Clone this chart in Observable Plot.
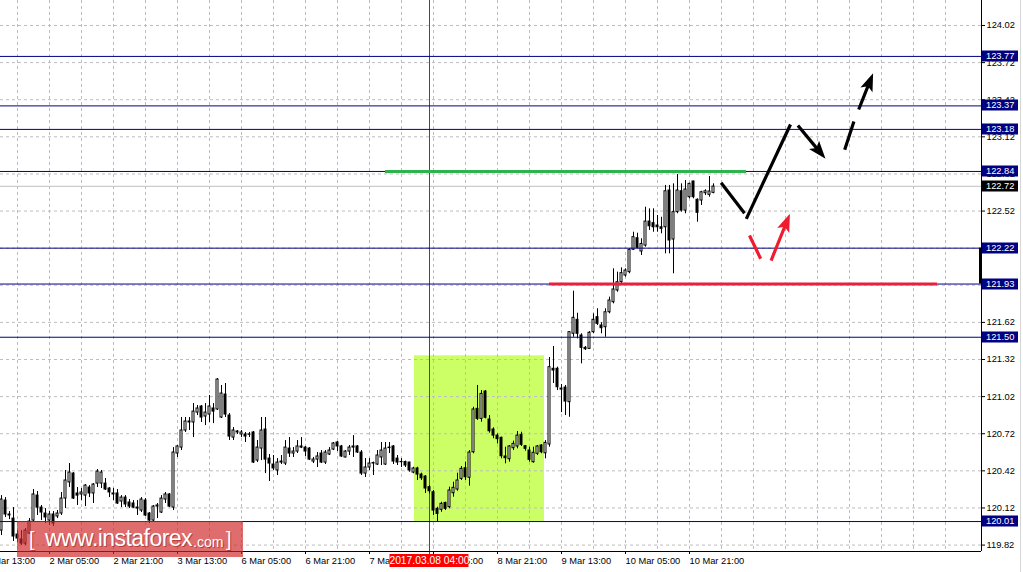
<!DOCTYPE html>
<html><head><meta charset="utf-8">
<script src="https://cdn.jsdelivr.net/npm/d3@7"></script>
<script src="https://cdn.jsdelivr.net/npm/@observablehq/plot@0.6"></script>
<style>
html,body{margin:0;padding:0;background:#fff;}
#wrap{position:relative;width:1023px;height:572px;overflow:hidden;}
#logo{position:absolute;left:17px;top:521px;width:226px;height:36px;background:rgba(210,40,40,0.68);color:#fff;font-family:"Liberation Sans",Arial,sans-serif;white-space:nowrap;}
#logo span{position:absolute;line-height:1;text-shadow:1px 1px 0 rgba(140,20,20,0.55);}
#logo .br{font-size:19.5px;top:8.5px;}
#logo .big{font-size:23px;left:28px;top:6.2px;letter-spacing:-0.55px;}
#logo .small{font-size:14px;left:176px;top:13.9px;}
</style></head>
<body><div id="wrap"></div>
<script>
// ---- data (USD/JPY H1) ----
const candleOpen = [
119.937,120.180,120.067,120.034,119.905,119.865,119.832,119.913,120.018,120.220,
120.123,120.075,120.018,120.067,120.051,120.075,120.196,120.326,120.398,120.237,
120.229,120.220,120.285,120.237,120.317,120.317,120.317,120.277,120.237,120.237,
120.172,120.204,120.164,120.156,120.123,120.099,120.180,120.075,120.018,120.131,
120.083,120.188,120.229,120.123,120.560,120.608,120.746,120.819,120.811,120.891,
120.940,120.859,120.875,120.924,120.916,120.851,121.037,120.867,120.689,120.730,
120.714,120.714,120.714,120.730,120.503,120.600,120.754,120.519,120.471,120.423,
120.487,120.479,120.600,120.560,120.576,120.617,120.608,120.600,120.495,120.511,
120.560,120.487,120.552,120.592,120.649,120.617,120.528,120.576,120.617,120.617,
120.568,120.398,120.447,120.479,120.471,120.528,120.471,120.608,120.617,120.519,
120.490,120.491,120.487,120.406,120.439,120.390,120.374,120.288,120.247,120.113,
120.105,120.161,120.126,120.239,120.269,120.355,120.441,120.364,120.570,120.921,
120.840,121.061,120.835,120.754,120.705,120.687,120.536,120.514,120.603,120.617,
120.711,120.619,120.584,120.490,120.558,120.625,120.562,120.633,121.245,121.245,
121.085,121.093,120.975,121.528,121.641,121.514,121.414,121.406,121.541,121.662,
121.595,121.581,121.702,121.783,121.878,121.945,121.999,122.026,122.207,122.300,
122.193,122.241,122.435,122.422,122.403,122.389,122.389,122.686,122.290,122.511,
122.680,122.524,122.632,122.759,122.611,122.605,122.664,122.651,122.667];
const candleHigh = [
120.220,120.204,120.091,120.123,119.937,119.937,119.954,120.034,120.269,120.253,
120.140,120.115,120.091,120.091,120.099,120.245,120.423,120.479,120.406,120.285,
120.277,120.309,120.301,120.317,120.431,120.423,120.358,120.285,120.277,120.269,
120.220,120.220,120.188,120.180,120.180,120.204,120.196,120.083,120.140,120.156,
120.220,120.245,120.237,120.608,120.625,120.851,120.851,120.851,120.964,120.948,
120.948,120.964,121.029,120.964,121.166,121.110,121.126,120.883,120.770,120.746,
120.746,120.730,120.730,120.738,120.665,120.851,120.851,120.552,120.544,120.519,
120.544,120.665,120.689,120.608,120.665,120.689,120.617,120.608,120.528,120.568,
120.584,120.584,120.608,120.649,120.657,120.625,120.584,120.625,120.705,120.625,
120.584,120.519,120.519,120.491,120.584,120.649,120.649,120.649,120.625,120.544,
120.519,120.499,120.490,120.449,120.449,120.401,120.382,120.301,120.261,120.126,
120.166,120.166,120.288,120.328,120.401,120.455,120.490,120.584,120.934,121.110,
121.069,121.069,120.867,120.768,120.719,120.692,120.611,120.625,120.660,120.738,
120.732,120.625,120.611,120.611,120.625,120.633,120.665,121.336,121.425,121.258,
121.118,121.110,121.546,121.872,121.694,121.528,121.425,121.546,121.689,121.730,
121.617,121.730,121.824,122.053,122.026,122.061,122.053,122.215,122.349,122.341,
122.296,122.551,122.538,122.538,122.484,122.470,122.727,122.727,122.740,122.815,
122.740,122.767,122.745,122.761,122.619,122.680,122.692,122.799,122.740];
const candleLow = [
119.897,120.043,120.026,119.849,119.840,119.816,119.816,119.905,120.002,120.059,
120.018,119.994,119.978,119.970,120.034,120.059,120.115,120.285,120.188,120.140,
120.180,120.131,120.204,120.156,120.285,120.277,120.261,120.204,120.180,120.148,
120.123,120.123,120.115,120.115,120.059,120.083,120.051,119.994,120.002,120.034,
120.075,120.156,120.123,120.099,120.528,120.584,120.730,120.746,120.689,120.867,
120.811,120.786,120.811,120.802,120.908,120.843,120.851,120.665,120.665,120.714,
120.689,120.649,120.689,120.479,120.487,120.503,120.398,120.334,120.423,120.382,
120.471,120.463,120.528,120.528,120.560,120.600,120.536,120.503,120.479,120.447,
120.479,120.471,120.544,120.584,120.576,120.528,120.524,120.544,120.528,120.560,
120.382,120.366,120.423,120.382,120.463,120.463,120.463,120.560,120.471,120.463,
120.447,120.447,120.409,120.396,120.342,120.342,120.237,120.234,120.059,120.005,
120.085,120.099,120.113,120.207,120.255,120.342,120.342,120.296,120.558,120.827,
120.813,120.840,120.724,120.679,120.638,120.517,120.477,120.490,120.584,120.598,
120.617,120.579,120.490,120.482,120.544,120.558,120.517,120.611,121.126,121.069,
120.891,120.867,120.853,121.500,121.487,121.285,121.393,121.401,121.528,121.595,
121.528,121.500,121.689,121.770,121.864,121.918,121.985,122.013,122.201,122.215,
122.161,122.228,122.363,122.349,122.349,122.336,122.174,122.174,122.013,122.498,
122.511,122.498,122.619,122.619,122.430,122.565,122.646,122.632,122.659];
const candleClose = [
120.188,120.067,120.059,119.889,119.873,119.832,119.937,120.010,120.229,120.123,
120.083,120.043,120.067,119.994,120.075,120.196,120.342,120.406,120.196,120.220,
120.245,120.301,120.237,120.309,120.414,120.406,120.269,120.245,120.229,120.156,
120.204,120.148,120.131,120.123,120.115,120.188,120.059,120.018,120.131,120.140,
120.196,120.229,120.131,120.568,120.617,120.746,120.819,120.811,120.899,120.924,
120.851,120.891,120.940,120.899,121.158,121.045,120.875,120.697,120.746,120.738,
120.730,120.697,120.712,120.487,120.608,120.746,120.511,120.479,120.439,120.487,
120.495,120.608,120.560,120.576,120.617,120.608,120.576,120.511,120.511,120.536,
120.487,120.568,120.584,120.641,120.617,120.536,120.576,120.608,120.608,120.568,
120.398,120.447,120.479,120.483,120.544,120.584,120.600,120.604,120.495,120.487,
120.492,120.463,120.423,120.439,120.390,120.360,120.277,120.255,120.099,120.072,
120.153,120.113,120.261,120.283,120.342,120.436,120.368,120.568,120.916,120.840,
121.042,120.849,120.740,120.705,120.676,120.538,120.522,120.617,120.638,120.705,
120.630,120.598,120.509,120.566,120.617,120.570,120.646,121.258,121.231,121.096,
121.077,120.980,121.541,121.657,121.528,121.414,121.403,121.536,121.641,121.608,
121.573,121.702,121.797,121.886,121.945,122.018,122.039,122.207,122.309,122.223,
122.254,122.435,122.397,122.389,122.389,122.376,122.680,122.282,122.511,122.686,
122.524,122.694,122.740,122.632,122.506,122.672,122.680,122.678,122.718];

const priceTicks = [124.02,123.72,123.42,123.12,122.82,122.52,122.22,121.92,121.62,121.32,121.02,120.72,120.42,120.12,119.82];
const timeTickIdx = [-4,12,28,44,60,76,92,108,124,140,156,172];
const timeTickLabels = ["1 Mar 13:00","2 Mar 05:00","2 Mar 21:00","3 Mar 13:00","6 Mar 05:00","6 Mar 21:00","7 Mar 13:00","8 Mar 05:00","8 Mar 21:00","9 Mar 13:00","10 Mar 05:00","10 Mar 21:00"];
const gridIdx = d3.range(4, 237, 8);
const levelPrices = [123.77,123.37,123.18,122.84,122.22,121.93,121.50,120.01];
const lastPrice = 122.72;
const markerIdx = 107;
const markerLabel = "2017.03.08 04:00";
const zoneIdx = [103.25, 135.75];
const zonePrice = [120.01, 121.35];
const resistIdx = [96.0, 186.25];
const resistPrice = 122.84;
const supportIdx = [137.0, 234.0];
const supportPrice = 121.93;
const stopBarPrices = [122.22, 121.93];
// forecast strokes: [x1, y1, x2, y2, colour, hasHead]
const forecastX1 = [179.9, 186.2, 199.1, 210.8, 214.3, 187.0, 192.4];
const forecastY1 = [122.748, 122.457, 123.212, 123.015, 123.341, 122.322, 122.120];
const forecastX2 = [185.75, 197.25, 206.0, 213.1, 217.9, 189.8, 197.1];
const forecastY2 = [122.503, 123.220, 122.942, 123.244, 123.634, 122.134, 122.498];
const forecastColor = ["black","black","black","black","black","red","red"];
const forecastHead = [false,false,true,false,true,false,true];

// ---- build ----
const candles = candleOpen.map((o,i)=>({i, open:o, high:candleHigh[i], low:candleLow[i], close:candleClose[i]}));
const xDomain = [-0.25, 245.0];
const yDomain = [119.768, 124.222];
const W = 1023, H = 572, mR = 42, mB = 21;
const pxX = (W - mR) / (xDomain[1]-xDomain[0]);
const pxY = (H - mB) / (yDomain[1]-yDomain[0]);
const colorMap = {black:"#000000", red:"#ee1c2e"};
const strokes = forecastX1.map((x1,i)=>{
  const x2 = forecastX2[i], y2 = forecastY2[i], y1 = forecastY1[i];
  const dxp = (x2-x1)*pxX, dyp = (y2-y1)*pxY, len = Math.hypot(dxp,dyp);
  const cut = forecastHead[i] ? 11 : 0;
  return {x1, y1, x2: x2 - dxp/len*cut/pxX, y2: y2 - dyp/len*cut/pxY,
    tipX: x2, tipY: y2, head: forecastHead[i], color: colorMap[forecastColor[i]],
    angle: Math.atan2(dxp, dyp) * 180/Math.PI};
});
const heads = strokes.filter(d=>d.head);
const headSymbol = {draw(ctx){ ctx.moveTo(0,0); ctx.lineTo(-6.5,18); ctx.lineTo(0,14); ctx.lineTo(6.5,18); ctx.closePath(); }};

const chart = Plot.plot({
  width: W, height: H, marginLeft: 0, marginRight: mR, marginTop: 0, marginBottom: mB,
  style: {fontFamily: "'Liberation Sans', Arial, sans-serif", fontSize: "9.3px", color: "black", background: "white", overflow: "visible"},
  x: {domain: xDomain},
  y: {domain: yDomain},
  marks: [
    Plot.rect([0], {x1: zoneIdx[0], x2: zoneIdx[1], y1: zonePrice[0], y2: zonePrice[1], fill: "#ccff66"}),
    Plot.gridY(priceTicks, {stroke: "#bdbdbd", strokeOpacity: 1, strokeDasharray: "3,3"}),
    Plot.gridX(gridIdx, {stroke: "#bdbdbd", strokeOpacity: 1, strokeDasharray: "3,3"}),
    Plot.ruleY([lastPrice], {stroke: "#c0c0c0"}),
    Plot.ruleX([markerIdx], {stroke: "#ff0000", insetBottom: -4}),
    Plot.ruleX(candles, {x: "i", y1: "low", y2: "high", stroke: "black"}),
    Plot.rect(candles, {x1: d=>d.i-0.25, x2: d=>d.i+0.25, y1: "open", y2: "close",
      fill: d=> d.close > d.open ? "white" : "black", stroke: "black"}),
    Plot.ruleY(levelPrices, {stroke: "#000080"}),
    Plot.ruleY([resistPrice], {x1: resistIdx[0], x2: resistIdx[1], stroke: "#2eb34f", strokeWidth: 3}),
    Plot.ruleY([supportPrice], {x1: supportIdx[0], x2: supportIdx[1], stroke: "#e8203c", strokeWidth: 3}),
    Plot.link(strokes, {x1: "x1", y1: "y1", x2: "x2", y2: "y2", stroke: "color", strokeWidth: 3.2, strokeLinecap: "butt"}),
    Plot.dot(heads, {x: "tipX", y: "tipY", symbol: headSymbol, rotate: "angle", fill: "color", stroke: "none", r: 5}),
    Plot.ruleX([xDomain[1]], {stroke: "black"}),
    Plot.ruleY([yDomain[0]], {stroke: "black"}),
    Plot.ruleX([xDomain[1]], {y1: stopBarPrices[0], y2: stopBarPrices[1], stroke: "black", strokeWidth: 3, dx: -1}),
    Plot.axisY({anchor: "right", ticks: priceTicks, tickSize: 3, tickPadding: 2, tickFormat: d=>d.toFixed(2), label: null, fill: "black"}),
    Plot.axisX({anchor: "bottom", ticks: timeTickIdx, tickSize: 3, tickPadding: 3, textAnchor: "start",
      tickFormat: d=>timeTickLabels[timeTickIdx.indexOf(d)], label: null, fill: "black"})
  ]
});

const wrap = document.getElementById("wrap");
wrap.appendChild(chart);

// price / time label boxes placed through the chart's own scales
const ys = chart.scale("y"), xs = chart.scale("x");
const svg = d3.select(chart);
const g = svg.append("g").attr("font-family", "'Liberation Sans', Arial, sans-serif").attr("font-size", "9.3px").attr("text-anchor", "start");
const axX = xs.apply(xDomain[1]);
function tag(price, color){
  const y = Math.round(ys.apply(price));
  g.append("rect").attr("x", axX + 1).attr("y", y - 5.5).attr("width", 36).attr("height", 11).attr("fill", color);
  g.append("text").attr("x", axX + 5).attr("y", y).attr("dy", "0.35em").attr("text-anchor", "start").attr("fill", "white").text(price.toFixed(2));
}
levelPrices.forEach(p=>tag(p, "#000080"));
tag(lastPrice, "#000000");
const mx = xs.apply(markerIdx) + 0.5;
g.append("rect").attr("x", mx - 40).attr("y", H - mB + 3).attr("width", 79).attr("height", 13).attr("fill", "#ff0000");
g.append("text").attr("x", mx).attr("y", H - mB + 9.5).attr("dy", "0.35em").attr("text-anchor", "middle").attr("fill", "white").attr("font-size", "10.3px").text(markerLabel);
g.append("line").attr("x1", W - 2.5).attr("x2", W - 2.5).attr("y1", 0).attr("y2", H).attr("stroke", "#d6d6d6");

// watermark
const logo = document.createElement("div");
logo.id = "logo";
logo.innerHTML = '<span class="br" style="left:12px">[</span><span class="big">www.instaforex</span><span class="small">.com</span><span class="br" style="left:209px">]</span>';
wrap.appendChild(logo);
</script>
</body></html>
